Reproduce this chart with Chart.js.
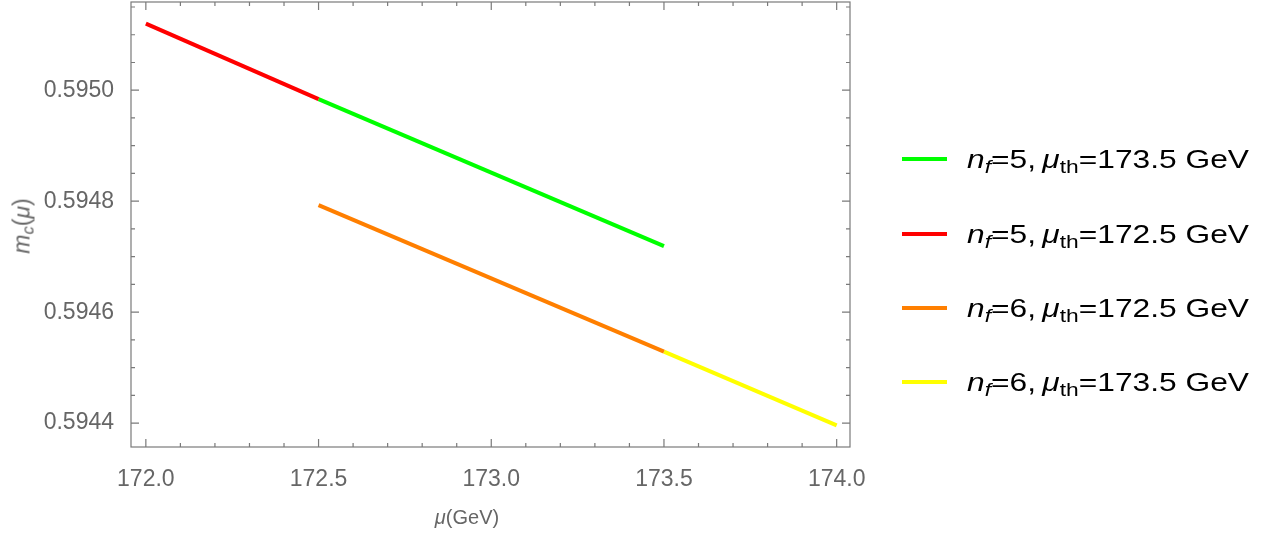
<!DOCTYPE html>
<html lang="en">
<head>
    <meta charset="UTF-8">
    <title>m_c running</title>
    <script src="https://cdn.jsdelivr.net/npm/chart.js"></script>
    <style>
        body {
            margin: 0;
            background: #fff;
            font-family: 'Liberation Sans', Arial, sans-serif;
        }
        .wrap {
            position: relative;
            width: 1271px;
            height: 534px;
        }
        .axis-title {
            position: absolute;
            color: #666;
            font-size: 20px;
            white-space: nowrap;
        }
        #xTitle { left: 467px; top: 517px; transform: translate(-50%, -50%); }
        #yTitle { left: 22px; top: 226px; font-size: 23px; transform: translate(-50%, -50%) rotate(-90deg); }
        .swatch {
            position: absolute;
            left: 902px;
            width: 45px;
            height: 4px;
            transform: translateY(-50%);
        }
        .legend-text {
            position: absolute;
            left: 967px;
            white-space: nowrap;
            font-size: 26px;
            line-height: 30px;
            color: #000;
            transform-origin: left center;
            transform: translateY(-50%) scaleX(1.22);
        }
        sub { font-size: 72%; vertical-align: -0.25em; line-height: 0; }
    </style>
</head>
<body>
<div class="wrap">
    <canvas id="chart" width="1271" height="534"></canvas>
    <div class="axis-title" id="xTitle"><i>μ</i>(GeV)</div>
    <div class="axis-title" id="yTitle"><i>m<sub>c</sub></i>(<i>μ</i>)</div>
    <div id="legend"></div>
</div>

<script>
    // series data (mu in GeV, m_c(mu))
    var redX = [172.0, 172.5];
    var redY = [0.595120, 0.594984];
    var greenX = [172.5, 173.5];
    var greenY = [0.594984, 0.594719];
    var orangeX = [172.5, 173.5];
    var orangeY = [0.594793, 0.594529];
    var yellowX = [173.5, 174.0];
    var yellowY = [0.594529, 0.594396];

    var xTicks = [172.0, 172.5, 173.0, 173.5, 174.0];
    var yTicks = [0.5944, 0.5946, 0.5948, 0.5950];

    var legendNf = ['5', '5', '6', '6'];
    var legendMuTh = ['173.5', '172.5', '172.5', '173.5'];
    var legendColors = ['#00ff00', '#ff0000', '#ff7f00', '#ffff00'];
    var legendY = [159, 234, 308, 382];

    function pts(xs, ys) {
        return xs.map(function (x, i) { return { x: x, y: ys[i] }; });
    }

    function ds(xs, ys, color) {
        return {
            data: pts(xs, ys),
            borderColor: color,
            borderWidth: 4,
            showLine: true,
            pointRadius: 0,
            fill: false
        };
    }

    // Mathematica-style frame with inward ticks on all four sides
    var framePlugin = {
        id: 'frame',
        afterDraw: function (chart) {
            var ctx = chart.ctx;
            var a = chart.chartArea;
            var xs = chart.scales.x, ys = chart.scales.y;
            ctx.save();
            ctx.strokeStyle = '#7a7a7a';
            ctx.lineWidth = 1.2;
            ctx.strokeRect(a.left, a.top, a.right - a.left, a.bottom - a.top);
            ctx.beginPath();
            var i, v, p, len;
            for (i = 0; i <= 20; i++) {
                v = 172.0 + i * 0.1;
                p = xs.getPixelForValue(v);
                len = (i % 5 === 0) ? 8 : 4;
                ctx.moveTo(p, a.bottom); ctx.lineTo(p, a.bottom - len);
                ctx.moveTo(p, a.top); ctx.lineTo(p, a.top + len);
            }
            for (i = 0; i <= 16; i++) {
                v = 0.5944 + i * 0.00005;
                if (v > ys.max) break;
                p = ys.getPixelForValue(v);
                len = (i % 4 === 0) ? 8 : 4;
                ctx.moveTo(a.left, p); ctx.lineTo(a.left + len, p);
                ctx.moveTo(a.right, p); ctx.lineTo(a.right - len, p);
            }
            ctx.stroke();
            ctx.restore();
        }
    };

    new Chart(document.getElementById('chart'), {
        type: 'scatter',
        data: {
            datasets: [
                ds(redX, redY, '#ff0000'),
                ds(greenX, greenY, '#00ff00'),
                ds(orangeX, orangeY, '#ff7f00'),
                ds(yellowX, yellowY, '#ffff00')
            ]
        },
        options: {
            responsive: false,
            animation: false,
            layout: { padding: { top: 2, right: 421, left: 0, bottom: 0 } },
            plugins: { legend: { display: false }, tooltip: { enabled: false } },
            scales: {
                x: {
                    type: 'linear',
                    min: 171.957,
                    max: 174.0386,
                    grid: { display: false },
                    border: { display: false },
                    afterBuildTicks: function (s) { s.ticks = xTicks.map(function (v) { return { value: v }; }); },
                    afterFit: function (s) { s.height = 87; s.paddingLeft = 0; s.paddingRight = 0; },
                    ticks: {
                        color: '#666',
                        font: { size: 23, family: 'Liberation Sans' },
                        padding: 11,
                        maxRotation: 0,
                        callback: function (v) { return v.toFixed(1); }
                    }
                },
                y: {
                    type: 'linear',
                    min: 0.594357,
                    max: 0.595159,
                    grid: { display: false },
                    border: { display: false },
                    afterBuildTicks: function (s) { s.ticks = yTicks.map(function (v) { return { value: v }; }); },
                    afterFit: function (s) { s.width = 131; s.paddingTop = 0; s.paddingBottom = 0; },
                    ticks: {
                        color: '#666',
                        font: { size: 23, family: 'Liberation Sans' },
                        padding: 9,
                        callback: function (v) { return v.toFixed(4); }
                    }
                }
            }
        },
        plugins: [framePlugin]
    });

    var leg = document.getElementById('legend');
    legendNf.forEach(function (nf, i) {
        var sw = document.createElement('div');
        sw.className = 'swatch';
        sw.style.top = legendY[i] + 'px';
        sw.style.background = legendColors[i];
        leg.appendChild(sw);
        var t = document.createElement('div');
        t.className = 'legend-text';
        t.style.top = legendY[i] + 'px';
        t.innerHTML = '<i>n<sub>f</sub></i>=' + nf + ',&thinsp;<i>μ</i><sub>th</sub>=' + legendMuTh[i] + ' GeV';
        leg.appendChild(t);
    });
</script>
</body>
</html>
